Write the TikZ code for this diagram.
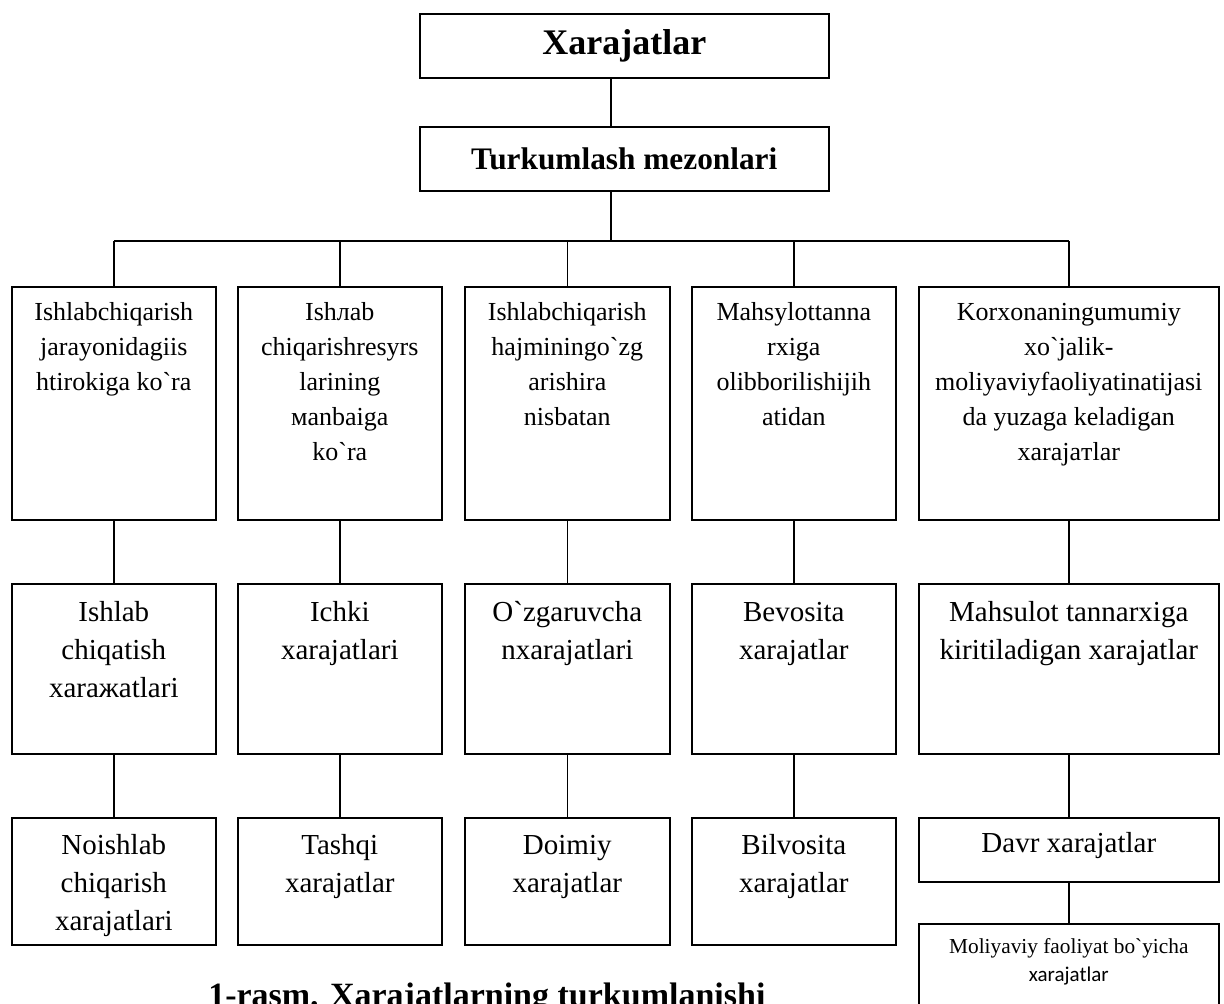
\documentclass[tikz,border=0pt]{standalone}
\usepackage{fontspec}
% no TeX ligatures here, so ` stays a grave accent
\newfontfamily\tnr{Liberation Serif}
\newfontfamily\calibri{Carlito}
\usepackage{tikz}
\usetikzlibrary{positioning, calc}

% top aligned text inside a fixed box: width, height, first line strut, text
\newcommand{\celltext}[4]{\parbox[t][#2][t]{#1}{\centering\rule{0pt}{#3}#4}}
\newcommand{\rowA}{\fontsize{19.5}{26.25}\selectfont}
\newcommand{\rowB}{\fontsize{21.75}{28.5}\selectfont}

\tikzset{
  cell/.style={draw, line width=1.2pt, inner sep=0pt, anchor=north west},
  headbox/.style={cell, minimum width=306.75pt, minimum height=48pt, align=center},
  link/.style={line width=1.2pt},
}

\begin{document}
\tnr
\begin{tikzpicture}[x=0.75pt, y=-0.75pt]

\useasboundingbox (0,0) rectangle (1224,1003);

% head of the tree
\node[headbox, font=\tnr\bfseries\fontsize{27}{32}\selectfont] (top) at (419,13) {Xarajatlar};
\node[headbox, font=\tnr\bfseries\fontsize{23.5}{28}\selectfont] (crit) at (419,126) {Turkumlash mezonlari};
\coordinate (hub) at (611,241);

% first row: criteria
\node[cell] (a1) at (11,286) {\rowA\celltext{153pt}{174.75pt}{25.5pt}{Ishlabchiqarish\\ jarayonidagiis\\ htirokiga ko`ra}};
\node[cell] (a2) at (237,286) {\rowA\celltext{153pt}{174.75pt}{25.5pt}{Ishлab\\ chiqarishresyrs\\ larining\\ мanbaiga\\ ko`ra}};
\node[cell] (a3) at (464,286) {\rowA\celltext{153.75pt}{174.75pt}{25.5pt}{Ishlabchiqarish\\ hajminingo`zg\\ arishira\\ nisbatan}};
\node[cell] (a4) at (691,286) {\rowA\celltext{153pt}{174.75pt}{25.5pt}{Mahsylottanna\\ rxiga\\ olibborilishijih\\ atidan}};
\node[cell] (a5) at (918,286) {\rowA\celltext{225pt}{174.75pt}{25.5pt}{Korxonaningumumiy\\ xo`jalik-\\ moliyaviyfaoliyatinatijasi\\ da yuzaga keladigan\\ xarajaтlar}};

% second row
\node[cell] (b1) at (11,583) {\rowB\celltext{153pt}{127.5pt}{28.5pt}{Ishlab\\ chiqatish\\ xaraжatlari}};
\node[cell] (b2) at (237,583) {\rowB\celltext{153pt}{127.5pt}{28.5pt}{Ichki\\ xarajatlari}};
\node[cell] (b3) at (464,583) {\rowB\celltext{153.75pt}{127.5pt}{28.5pt}{O`zgaruvcha\\ nxarajatlari}};
\node[cell] (b4) at (691,583) {\rowB\celltext{153pt}{127.5pt}{28.5pt}{Bevosita\\ xarajatlar}};
\node[cell] (b5) at (918,583) {\rowB\celltext{225pt}{127.5pt}{28.5pt}{Mahsulot tannarxiga\\ kiritiladigan xarajatlar}};

% third row
\node[cell] (c1) at (11,817) {\rowB\celltext{153pt}{95.25pt}{27.75pt}{Noishlab\\ chiqarish\\ xarajatlari}};
\node[cell] (c2) at (237,817) {\rowB\celltext{153pt}{95.25pt}{27.75pt}{Tashqi\\ xarajatlar}};
\node[cell] (c3) at (464,817) {\rowB\celltext{153.75pt}{95.25pt}{27.75pt}{Doimiy\\ xarajatlar}};
\node[cell] (c4) at (691,817) {\rowB\celltext{153pt}{95.25pt}{27.75pt}{Bilvosita\\ xarajatlar}};
\node[cell] (davr) at (918,817) {\rowB\celltext{225pt}{48pt}{26.25pt}{Davr xarajatlar}};
\node[cell] (mol) at (918,923) {\fontsize{16}{21}\selectfont\celltext{225pt}{90pt}{22.5pt}{Moliyaviy faoliyat bo`yicha\\ {\calibri\fontsize{15.75}{21}\selectfont xarajatlar}}};

% caption, cut by the lower edge
\node[anchor=base west, inner sep=0pt, font=\tnr\bfseries\fontsize{25.5}{30}\selectfont] (cap) at (208,1006) {1-rasm. Xarajatlarning turkumlanishi};

% connectors
\draw[link] (top.south -| hub) -- (crit.north -| hub);
\draw[link] (crit.south -| hub) -- (hub);
\draw[link] (a1.north |- hub) -- (a5.north |- hub);
\foreach \c in {1,...,5} \draw[link] (a\c.north |- hub) -- (a\c.north);
\foreach \c in {1,...,5} \draw[link] (a\c.south) -- (b\c.north);
\foreach \c in {1,...,4} \draw[link] (b\c.south) -- (c\c.north);
\draw[link] (b5.south) -- (davr.north);
\draw[link] (davr.south) -- (mol.north);

\end{tikzpicture}
\end{document}
